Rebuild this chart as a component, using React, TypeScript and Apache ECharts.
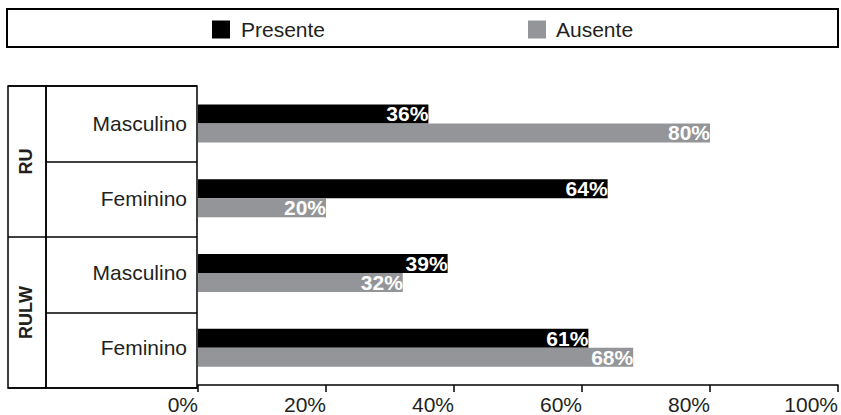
import React, { useEffect, useRef } from "react";
import * as echarts from "echarts";

const groups = ["RU", "RULW"];
const subCategories = ["Masculino", "Feminino", "Masculino", "Feminino"];
const subGroupOf = ["RU", "RU", "RULW", "RULW"];
const presente = [36, 64, 39, 61];
const ausente = [80, 20, 32, 68];
const xTicks = [0, 20, 40, 60, 80, 100];

const TEXT = "#231f20";
const BLACK = "#000000";
const GREY = "#939598";
const FONT = "Liberation Sans, Arial, sans-serif";

export default function App() {
  const ref = useRef<HTMLDivElement>(null);
  useEffect(() => {
    if (!ref.current) return;
    const chart = echarts.init(ref.current, undefined, { renderer: "svg" });
    const catIds = subCategories.map((s, i) => `${subGroupOf[i]}|${s}|${i}`);
    const labelStyle = {
      show: true,
      position: "insideRight",
      distance: 0,
      color: "#ffffff",
      fontWeight: "bold",
      fontSize: 21,
      fontFamily: FONT,
      formatter: "{c}%",
    };
    chart.setOption({
      animation: false,
      textStyle: { fontFamily: FONT },
      graphic: [
        {
          type: "rect",
          shape: { x: 7, y: 9, width: 831, height: 38 },
          style: { fill: "none", stroke: BLACK, lineWidth: 2 },
          silent: true,
        },
      ],
      legend: [
        {
          data: ["Presente"],
          left: 212,
          top: 19,
          padding: 0,
          icon: "rect",
          itemWidth: 18,
          itemHeight: 18,
          textStyle: { fontSize: 21, color: TEXT, fontFamily: FONT, padding: [0, 0, 0, 6] },
        },
        {
          data: ["Ausente"],
          left: 528,
          top: 19,
          padding: 0,
          icon: "rect",
          itemWidth: 18,
          itemHeight: 18,
          textStyle: { fontSize: 21, color: TEXT, fontFamily: FONT, padding: [0, 0, 0, 5] },
        },
      ],
      grid: [
        { left: 198, right: 3, top: 86, bottom: 27 },
        {
          left: 46,
          width: 151,
          top: 86,
          bottom: 27,
          show: true,
          borderColor: BLACK,
          borderWidth: 1.5,
          backgroundColor: "transparent",
        },
        {
          left: 8,
          width: 38,
          top: 86,
          bottom: 27,
          show: true,
          borderColor: BLACK,
          borderWidth: 1.5,
          backgroundColor: "transparent",
        },
      ],
      xAxis: [
        {
          gridIndex: 0,
          type: "value",
          min: 0,
          max: 100,
          interval: 20,
          axisLine: { show: true, lineStyle: { color: BLACK, width: 1.5 } },
          axisTick: { show: true, length: 7, lineStyle: { color: BLACK, width: 1.5 } },
          splitLine: { show: false },
          axisLabel: {
            formatter: (v: number) => (xTicks.includes(v) ? `${v}%` : ""),
            align: "right",
            margin: 9,
            fontSize: 21,
            color: TEXT,
            fontFamily: FONT,
          },
        },
        { gridIndex: 1, type: "value", show: false, min: 0, max: 1 },
        { gridIndex: 2, type: "value", show: false, min: 0, max: 1 },
      ],
      yAxis: [
        {
          gridIndex: 0,
          type: "category",
          data: catIds,
          inverse: true,
          axisLine: { show: false },
          axisTick: { show: false },
          splitLine: { show: false },
          axisLabel: {
            margin: 11,
            fontSize: 21,
            color: TEXT,
            fontFamily: FONT,
            padding: [4, 0, 0, 0],
            formatter: (v: string) => v.split("|")[1],
          },
        },
        {
          gridIndex: 1,
          type: "category",
          data: catIds,
          inverse: true,
          axisLine: { show: false },
          axisTick: { show: false },
          axisLabel: { show: false },
          splitLine: { show: true, lineStyle: { color: BLACK, width: 1.5 } },
        },
        {
          gridIndex: 2,
          type: "category",
          data: groups,
          inverse: true,
          axisLine: { show: false },
          axisTick: { show: false },
          splitLine: { show: true, lineStyle: { color: BLACK, width: 1.5 } },
          axisLabel: {
            inside: true,
            rotate: 90,
            margin: 18,
            align: "center",
            verticalAlign: "middle",
            fontSize: 18,
            fontWeight: "bold",
            color: TEXT,
            fontFamily: FONT,
          },
        },
      ],
      series: [
        {
          name: "Presente",
          type: "bar",
          xAxisIndex: 0,
          yAxisIndex: 0,
          data: presente,
          barWidth: 19,
          barGap: "0%",
          itemStyle: { color: BLACK },
          label: labelStyle,
        },
        {
          name: "Ausente",
          type: "bar",
          xAxisIndex: 0,
          yAxisIndex: 0,
          data: ausente,
          barWidth: 19,
          barGap: "0%",
          itemStyle: { color: GREY },
          label: labelStyle,
        },
      ],
    });
    return () => chart.dispose();
  }, []);
  return <div ref={ref} style={{ width: 841, height: 415, position: "absolute", left: 0, top: 0 }} />;
}
